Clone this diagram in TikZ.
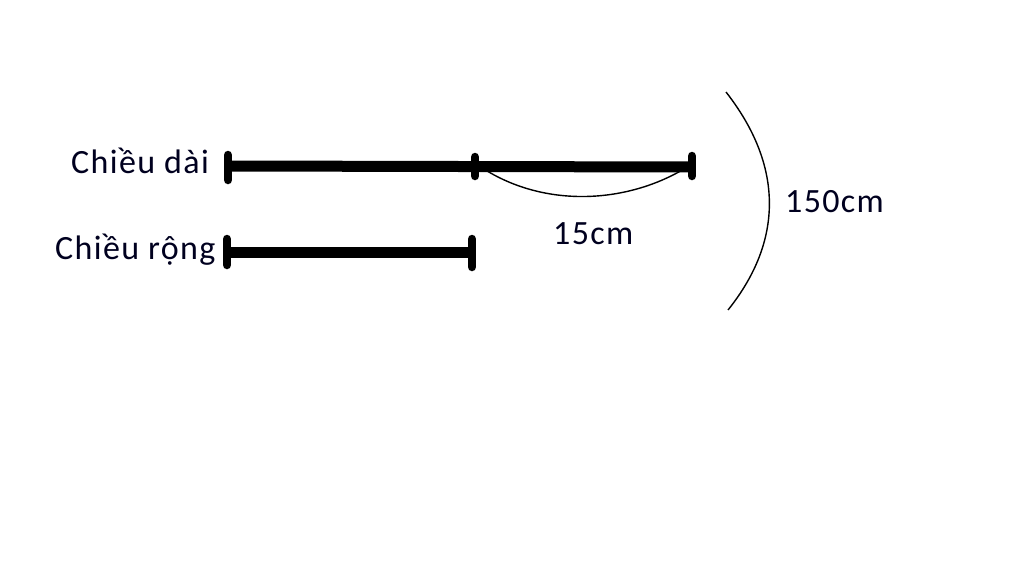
\documentclass[tikz,border=0pt]{standalone}
\usepackage{fontspec}
\setmainfont{Carlito}[LetterSpace=4]
\begin{document}
\begin{tikzpicture}[x=1pt,y=-1pt,
  bar/.style={line width=11pt},
  tick/.style={line width=8.5pt,line cap=round},
  curve/.style={line width=1.4pt},
  lbl/.style={inner sep=0pt,anchor=base west,font=\fontsize{34}{40}\selectfont,text=black!88!blue}]
\fill[white] (0,0) rectangle (1024,565);
\useasboundingbox (0,0) rectangle (1024,565);
% coordinates
\coordinate (dA) at (228,166);
\coordinate (dB) at (475,166);
\coordinate (dC) at (692,167);
\coordinate (rA) at (227,252);
\coordinate (rB) at (472,252);
\coordinate (bT) at (726,92);
\coordinate (bB) at (728,310);
% labels
\node[lbl] (ldai) at (71,173) {Chiều dài};
\node[lbl] (lrong) at (55,259) {Chiều rộng};
\node[lbl] (l15) at (553,244) {15cm};
\node[lbl] (l150) at (785,212) {150cm};
% bars
\draw[bar] (dA) -- (dC);
\draw[bar] (rA) -- (rB);
% ticks
\draw[tick] ([yshift=-14pt]dA) -- ([yshift=11pt]dA);
\draw[tick] ([yshift=-10pt]dB) -- ([yshift=9pt]dB);
\draw[tick] ([yshift=-9pt]dC) -- ([yshift=11pt]dC);
\draw[tick] ([yshift=-13pt]rA) -- ([yshift=13pt]rA);
\draw[tick] ([yshift=-15pt]rB) -- ([yshift=13pt]rB);
% arcs
\draw[curve] ([yshift=3pt]dB) .. controls (540,210) and (630,205) .. ([yshift=3pt]dC);
\draw[curve] (bT) .. controls (783,165) and (784,240) .. (bB);
\end{tikzpicture}
\end{document}
